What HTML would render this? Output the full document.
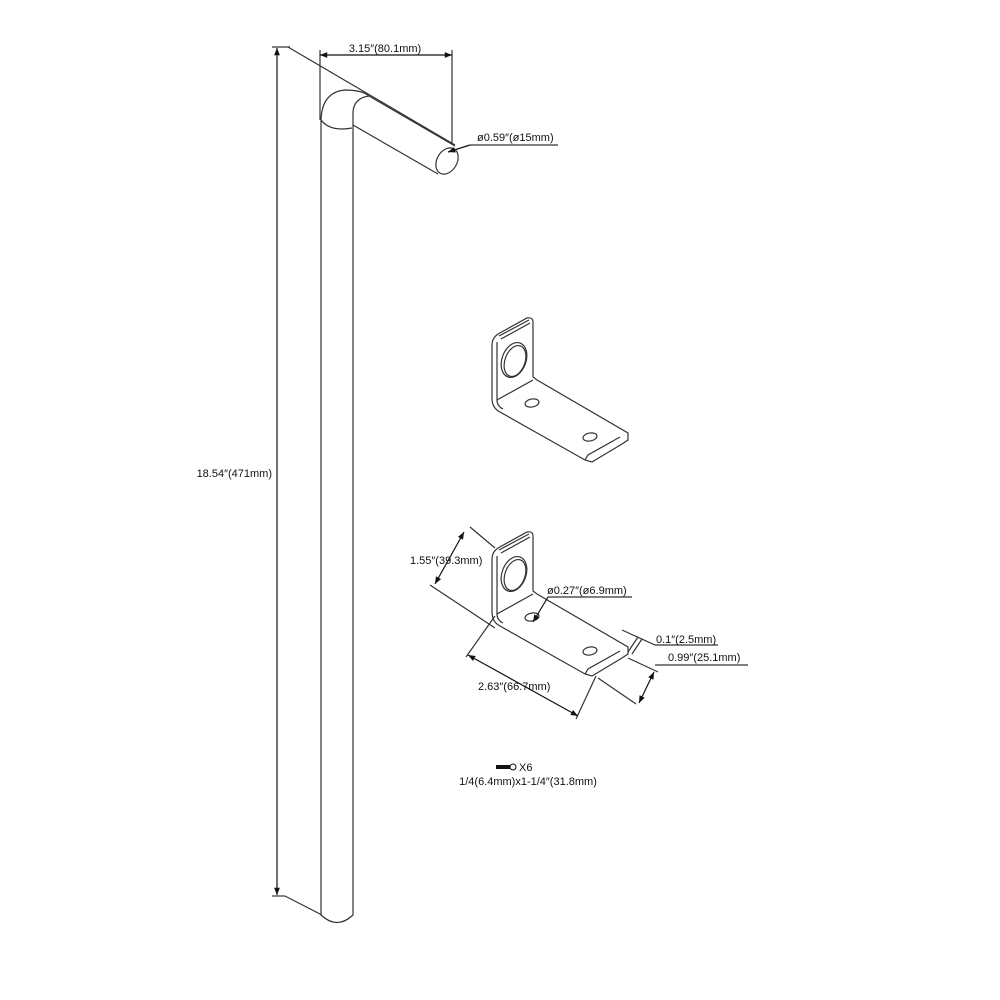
<!DOCTYPE html>
<html><head><meta charset="utf-8"><style>
html,body{margin:0;padding:0;background:#fff}
svg{display:block}
text{font-family:"Liberation Sans",sans-serif;font-size:11px;fill:#111}
</style></head><body>
<svg width="1000" height="1000" viewBox="0 0 1000 1000" xmlns="http://www.w3.org/2000/svg">
<defs>
<marker id="a" viewBox="0 0 10 10" refX="10" refY="5" markerWidth="8" markerHeight="6" orient="auto-start-reverse"><path d="M0,1 L10,5 L0,9z" fill="#111"/></marker>
<g id="br" fill="none" stroke="#333" stroke-width="1.2">
<path d="M492,345 L492,398 Q492,408 500,412 L585,460 L592,462 L622,444 L628,440 L628,433 L537,380 L533,377 L533,322 Q533,317 527,318 L498,334 Q492,338 492,345z"/>
<path d="M497,342 L497,400 Q497,406 503,409"/>
<path d="M499,336 L529,320"/>
<path d="M501,339 L530,323"/>
<path d="M497,400 L533,380"/>
<path d="M585,460 L588,455 L620,437"/>
<ellipse cx="514" cy="360" rx="12" ry="18" transform="rotate(20 514 360)"/>
<ellipse cx="515" cy="361" rx="10" ry="16" transform="rotate(20 515 361)"/>
<ellipse cx="532" cy="403" rx="7" ry="4" transform="rotate(-10 532 403)"/>
<ellipse cx="590" cy="437" rx="7" ry="4" transform="rotate(-10 590 437)"/>
</g>
</defs>
<g fill="none" stroke="#333" stroke-width="1.2">
<path d="M321,120 L321,915 Q337,930 353,915 L353,125"/>
<path d="M321,120 Q322,92 345,90 Q362,90 369,96"/>
<path d="M369,96 Q354,98 353,112 L353,125"/>
<path d="M321,120 Q330,132 352,128"/>
<path d="M369,96 L455,146"/>
<path d="M353,125 L438,174"/>
<ellipse cx="447" cy="161" rx="10" ry="14" transform="rotate(30 447 161)"/>
<line x1="277" y1="48" x2="277" y2="895" stroke="#111" marker-start="url(#a)" marker-end="url(#a)"/>
<line x1="272" y1="47" x2="290" y2="47"/>
<line x1="288" y1="47" x2="455" y2="145"/>
<line x1="272" y1="896" x2="285" y2="896"/>
<line x1="285" y1="896" x2="322" y2="915"/>
<line x1="320" y1="50" x2="320" y2="120"/>
<line x1="452" y1="50" x2="452" y2="143"/>
<line x1="320" y1="55" x2="452" y2="55" stroke="#111" marker-start="url(#a)" marker-end="url(#a)"/>
<line x1="448" y1="152" x2="470" y2="145" stroke="#111" marker-start="url(#a)"/>
<line x1="470" y1="145" x2="558" y2="145"/>
</g>
<text x="385" y="52" text-anchor="middle">3.15″(80.1mm)</text>
<text x="477" y="141">ø0.59″(ø15mm)</text>
<text x="272" y="477" text-anchor="end">18.54″(471mm)</text>
<use href="#br"/>
<use href="#br" transform="translate(0,214)"/>
<g fill="none" stroke="#333" stroke-width="1.2">
<line x1="470" y1="527" x2="495" y2="548"/>
<line x1="430" y1="585" x2="495" y2="628"/>
<line x1="464" y1="532" x2="435" y2="584" stroke="#111" marker-start="url(#a)" marker-end="url(#a)"/>
<line x1="533" y1="622" x2="548" y2="597" stroke="#111" marker-start="url(#a)"/>
<line x1="548" y1="597" x2="632" y2="597"/>
<line x1="495" y1="616" x2="466" y2="657"/>
<line x1="596" y1="676" x2="576" y2="719"/>
<line x1="468" y1="655" x2="578" y2="716" stroke="#111" marker-start="url(#a)" marker-end="url(#a)"/>
<line x1="622" y1="630" x2="655" y2="645"/>
<line x1="655" y1="645" x2="718" y2="645"/>
<line x1="638" y1="637" x2="628" y2="652"/>
<line x1="642" y1="639" x2="632" y2="654"/>
<line x1="628" y1="658" x2="658" y2="672"/>
<line x1="598" y1="678" x2="636" y2="704"/>
<line x1="654" y1="672" x2="639" y2="703" stroke="#111" marker-start="url(#a)" marker-end="url(#a)"/>
<line x1="655" y1="665" x2="748" y2="665"/>
</g>
<text x="410" y="564">1.55″(39.3mm)</text>
<text x="547" y="594">ø0.27″(ø6.9mm)</text>
<text x="478" y="690">2.63″(66.7mm)</text>
<text x="656" y="643">0.1″(2.5mm)</text>
<text x="668" y="661">0.99″(25.1mm)</text>
<rect x="496" y="765" width="14" height="4" fill="#111"/>
<circle cx="513" cy="767" r="3" fill="none" stroke="#111"/>
<text x="519" y="771">X6</text>
<text x="528" y="785" text-anchor="middle">1/4(6.4mm)x1-1/4″(31.8mm)</text>
</svg>
</body></html>
